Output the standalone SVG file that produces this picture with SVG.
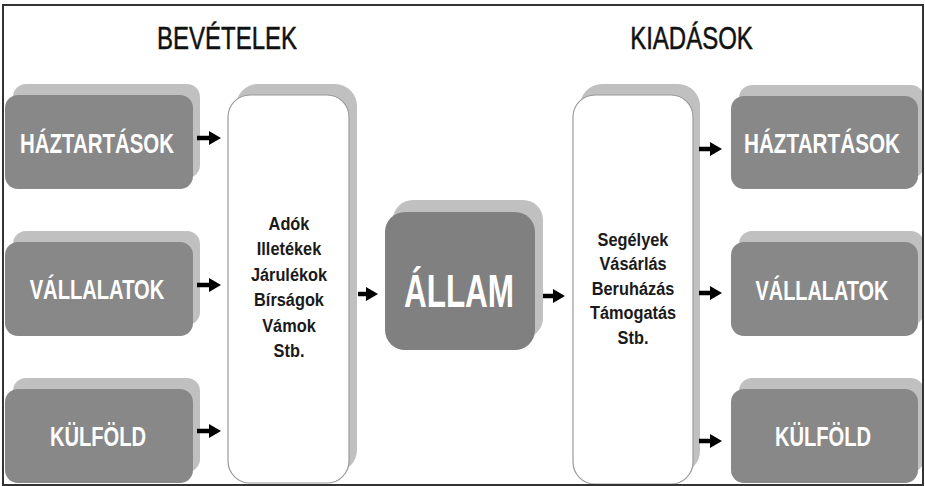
<svg xmlns="http://www.w3.org/2000/svg" width="925" height="486" viewBox="0 0 925 486">
<style>
  text { font-family: "Liberation Sans", Arial, sans-serif; }
  .title { font-size: 32px; fill: #111; stroke: #111; stroke-width: 0.5; text-anchor: middle; }
  .sh { fill: #c0c0c0; }
  .box { fill: #888888; }
  .tall { fill: #ffffff; stroke: #9a9a9a; stroke-width: 1.2; }
  .state { fill: #808080; }
  .lbl { font-size: 28px; font-weight: bold; fill: #ffffff; text-anchor: middle; }
  .big { font-size: 47px; font-weight: bold; fill: #ffffff; text-anchor: middle; }
  .list { font-size: 19px; font-weight: bold; fill: #1a1a1a; text-anchor: middle; }
  .conn { stroke: #000; stroke-width: 4.5; fill: none; }
</style>
<defs>
  <marker id="ah" markerUnits="userSpaceOnUse" markerWidth="12" markerHeight="14" refX="1" refY="7" orient="auto">
    <path d="M0,0 L12,7 L0,14 Z" fill="#000"/>
  </marker>
</defs>
<rect x="0" y="0" width="925" height="486" fill="#ffffff"/>

<g transform="translate(227 0) scale(0.75 1)">
  <text class="title" x="0" y="49">BEVÉTELEK</text>
</g>
<g transform="translate(691.5 0) scale(0.75 1)">
  <text class="title" x="0" y="49">KIADÁSOK</text>
</g>

<g id="haztartasok-in">
  <rect class="sh" x="13" y="84" width="187" height="94" rx="13"/>
  <rect class="box" x="5" y="95" width="188" height="94" rx="13"/>
  <text class="lbl" transform="translate(97 153) scale(0.73 1)" x="0" y="0">HÁZTARTÁSOK</text>
</g>
<g id="vallalatok-in">
  <rect class="sh" x="13" y="231" width="187" height="94" rx="13"/>
  <rect class="box" x="5" y="242" width="188" height="94" rx="13"/>
  <text class="lbl" transform="translate(97 299) scale(0.72 1)" x="0" y="0">VÁLLALATOK</text>
</g>
<g id="kulfold-in">
  <rect class="sh" x="13" y="378" width="187" height="94" rx="13"/>
  <rect class="box" x="5" y="389" width="188" height="94" rx="13"/>
  <text class="lbl" transform="translate(98 446) scale(0.72 1)" x="0" y="0">KÜLFÖLD</text>
</g>

<g id="bevetelek">
  <rect class="sh" x="236" y="84" width="121" height="388" rx="22"/>
  <rect class="tall" x="228" y="95" width="121" height="388" rx="22"/>
  <g transform="translate(289 0) scale(0.86 1)">
    <text class="list" x="0" y="230">Adók</text>
    <text class="list" x="0" y="255.5">Illetékek</text>
    <text class="list" x="0" y="281">Járulékok</text>
    <text class="list" x="0" y="306.5">Bírságok</text>
    <text class="list" x="0" y="332">Vámok</text>
    <text class="list" x="0" y="357.5">Stb.</text>
  </g>
</g>

<g id="allam">
  <rect class="sh" x="393" y="200" width="150" height="138" rx="20"/>
  <rect class="state" x="385" y="212" width="150" height="138" rx="20"/>
  <text class="big" transform="translate(459 307) scale(0.67 1)" x="0" y="0">ÁLLAM</text>
</g>

<g id="kiadasok">
  <rect class="sh" x="580" y="84" width="120" height="389" rx="22"/>
  <rect class="tall" x="573" y="95" width="120" height="389" rx="22"/>
  <g transform="translate(633 0) scale(0.86 1)">
    <text class="list" x="0" y="246">Segélyek</text>
    <text class="list" x="0" y="270.5">Vásárlás</text>
    <text class="list" x="0" y="295">Beruházás</text>
    <text class="list" x="0" y="319.5">Támogatás</text>
    <text class="list" x="0" y="344">Stb.</text>
  </g>
</g>

<g id="haztartasok-out">
  <rect class="sh" x="739" y="85" width="185" height="93" rx="13"/>
  <rect class="box" x="731" y="96" width="187" height="93" rx="13"/>
  <text class="lbl" transform="translate(822 153) scale(0.74 1)" x="0" y="0">HÁZTARTÁSOK</text>
</g>
<g id="vallalatok-out">
  <rect class="sh" x="739" y="231" width="185" height="94" rx="13"/>
  <rect class="box" x="731" y="242" width="187" height="94" rx="13"/>
  <text class="lbl" transform="translate(822 300) scale(0.71 1)" x="0" y="0">VÁLLALATOK</text>
</g>
<g id="kulfold-out">
  <rect class="sh" x="739" y="378" width="185" height="94" rx="13"/>
  <rect class="box" x="731" y="389" width="187" height="94" rx="13"/>
  <text class="lbl" transform="translate(823 446) scale(0.72 1)" x="0" y="0">KÜLFÖLD</text>
</g>

<g id="connectors">
  <line class="conn" x1="197" y1="138" x2="210" y2="138" marker-end="url(#ah)"/>
  <line class="conn" x1="197" y1="285" x2="210" y2="285" marker-end="url(#ah)"/>
  <line class="conn" x1="197" y1="431" x2="210" y2="431" marker-end="url(#ah)"/>
  <line class="conn" x1="358" y1="294" x2="367" y2="294" marker-end="url(#ah)"/>
  <line class="conn" x1="543" y1="296" x2="554" y2="296" marker-end="url(#ah)"/>
  <line class="conn" x1="699" y1="149" x2="711" y2="149" marker-end="url(#ah)"/>
  <line class="conn" x1="699" y1="293" x2="711" y2="293" marker-end="url(#ah)"/>
  <line class="conn" x1="699" y1="441" x2="711" y2="441" marker-end="url(#ah)"/>
</g>

<rect x="3" y="5" width="920" height="480" fill="none" stroke="#333333" stroke-width="2"/>
</svg>
